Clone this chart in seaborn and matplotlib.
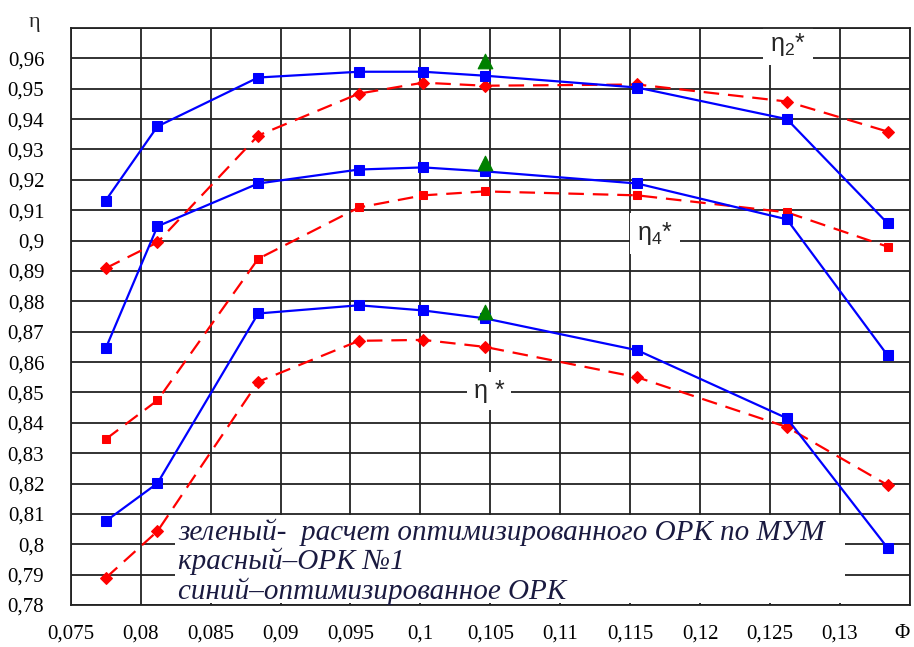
import matplotlib
matplotlib.use("Agg")
import matplotlib.pyplot as plt
from matplotlib.patches import Rectangle
import seaborn as sns

# расход Ф (общий для всех кривых)
phi = [0.0775, 0.0812, 0.0884, 0.0956, 0.1002, 0.1046, 0.1155, 0.1262, 0.1334]

# синий - оптимизированное ОРК
blue_eta2 = [0.9132, 0.9376, 0.9537, 0.9556, 0.9556, 0.9543, 0.9504, 0.9400, 0.9057]
blue_eta4 = [0.8645, 0.9047, 0.9188, 0.9234, 0.9241, 0.9228, 0.9188, 0.9070, 0.8622]
blue_eta = [0.8076, 0.8201, 0.8760, 0.8787, 0.8770, 0.8744, 0.8639, 0.8415, 0.7988]

# красный - ОРК №1
red_eta2 = [0.8909, 0.8994, 0.9346, 0.9484, 0.9520, 0.9510, 0.9514, 0.9458, 0.9359]
red_eta4 = [0.8346, 0.8474, 0.8940, 0.9109, 0.9149, 0.9162, 0.9149, 0.9093, 0.8980]
red_eta = [0.7889, 0.8043, 0.8535, 0.8670, 0.8673, 0.8650, 0.8550, 0.8386, 0.8195]

# зеленый - расчет по МУМ
green_phi = [0.1046, 0.1046, 0.1046]
green_eta = [0.9590, 0.9254, 0.8764]

x_ticks = [0.075, 0.08, 0.085, 0.09, 0.095, 0.1, 0.105, 0.11, 0.115, 0.12, 0.125, 0.13, 0.135]
x_labels = ['0,075', '0,08', '0,085', '0,09', '0,095', '0,1', '0,105', '0,11', '0,115',
            '0,12', '0,125', '0,13', 'Φ']
y_ticks = [0.78 + 0.01 * i for i in range(20)]
y_labels = ['0,78', '0,79', '0,8', '0,81', '0,82', '0,83', '0,84', '0,85', '0,86', '0,87',
            '0,88', '0,89', '0,9', '0,91', '0,92', '0,93', '0,94', '0,95', '0,96', '']

legend_lines = ['зеленый-  расчет оптимизированного ОРК по МУМ',
                'красный–ОРК №1',
                'синий–оптимизированное ОРК']

sns.set_style("white")
plt.rcParams['font.family'] = ['Liberation Serif', 'DejaVu Serif']

fig = plt.figure(figsize=(9.14, 6.47), dpi=100)
ax = fig.add_axes([0.0774, 0.0649, 0.9182, 0.8918])

blue = '#0000ff'
red = '#ff0000'
dash = (0, (7, 4))

for yb in [blue_eta2, blue_eta4, blue_eta]:
    sns.lineplot(x=phi, y=yb, ax=ax, color=blue, lw=1.6, marker='s', ms=6.5,
                 mec=blue, mfc=blue, zorder=4)
sns.lineplot(x=phi, y=red_eta2, ax=ax, color=red, lw=1.6, linestyle=dash, marker='D',
             ms=6, mec=red, mfc=red, zorder=3)
sns.lineplot(x=phi, y=red_eta4, ax=ax, color=red, lw=1.6, linestyle=dash, marker='s',
             ms=6, mec=red, mfc=red, zorder=3)
sns.lineplot(x=phi, y=red_eta, ax=ax, color=red, lw=1.6, linestyle=dash, marker='D',
             ms=6, mec=red, mfc=red, zorder=3)
sns.scatterplot(x=green_phi, y=green_eta, ax=ax, color='#008000', marker='^', s=110,
                edgecolor='#008000', zorder=5)

ax.set_xlim(0.075, 0.135)
ax.set_ylim(0.78, 0.97)
ax.set_xticks(x_ticks)
ax.set_xticklabels(x_labels)
ax.set_yticks(y_ticks)
ax.set_yticklabels(y_labels)
ax.tick_params(axis='both', labelsize=15, colors='black', direction='out')
ax.tick_params(axis='x', length=8, width=1.2, pad=6)
ax.tick_params(axis='y', length=5, width=1.2, pad=14)
ax.get_xticklabels()[-1].set_horizontalalignment('right')
ax.grid(True, color='#222222', lw=1.3)
ax.set_axisbelow(True)
for s in ax.spines.values():
    s.set_color('#222222')
    s.set_linewidth(1.3)

# белая подложка под подписью
ax.add_patch(Rectangle((0.124, 0.004), 0.799, 0.152, transform=ax.transAxes,
                       facecolor='white', edgecolor='none', zorder=1.5))
for i, t in enumerate(legend_lines):
    ax.text(0.128, 0.126 - i * 0.051, t, transform=ax.transAxes, fontsize=21,
            style='italic', color='#1a1a40', va='center', ha='left', zorder=6)

box = dict(facecolor='white', edgecolor='none', pad=5)
lab_font = ['Liberation Sans', 'DejaVu Sans']
ax.text(0.12625, 0.9645, r'$\mathregular{\eta_2}$*', fontsize=18, family=lab_font,
        ha='center', va='center', bbox=box, zorder=2)
ax.text(0.1168, 0.9024, r'$\mathregular{\eta_4}$*', fontsize=18, family=lab_font,
        ha='center', va='center', bbox=box, zorder=2)
ax.text(0.1049, 0.8505, 'η *', fontsize=18, family=lab_font,
        ha='center', va='center', bbox=box, zorder=2)

fig.text(0.038, 0.965, 'η', fontsize=16, ha='center', va='center')

ax.set_xlabel('')
ax.set_ylabel('')
fig.savefig('out.png', dpi=100)
